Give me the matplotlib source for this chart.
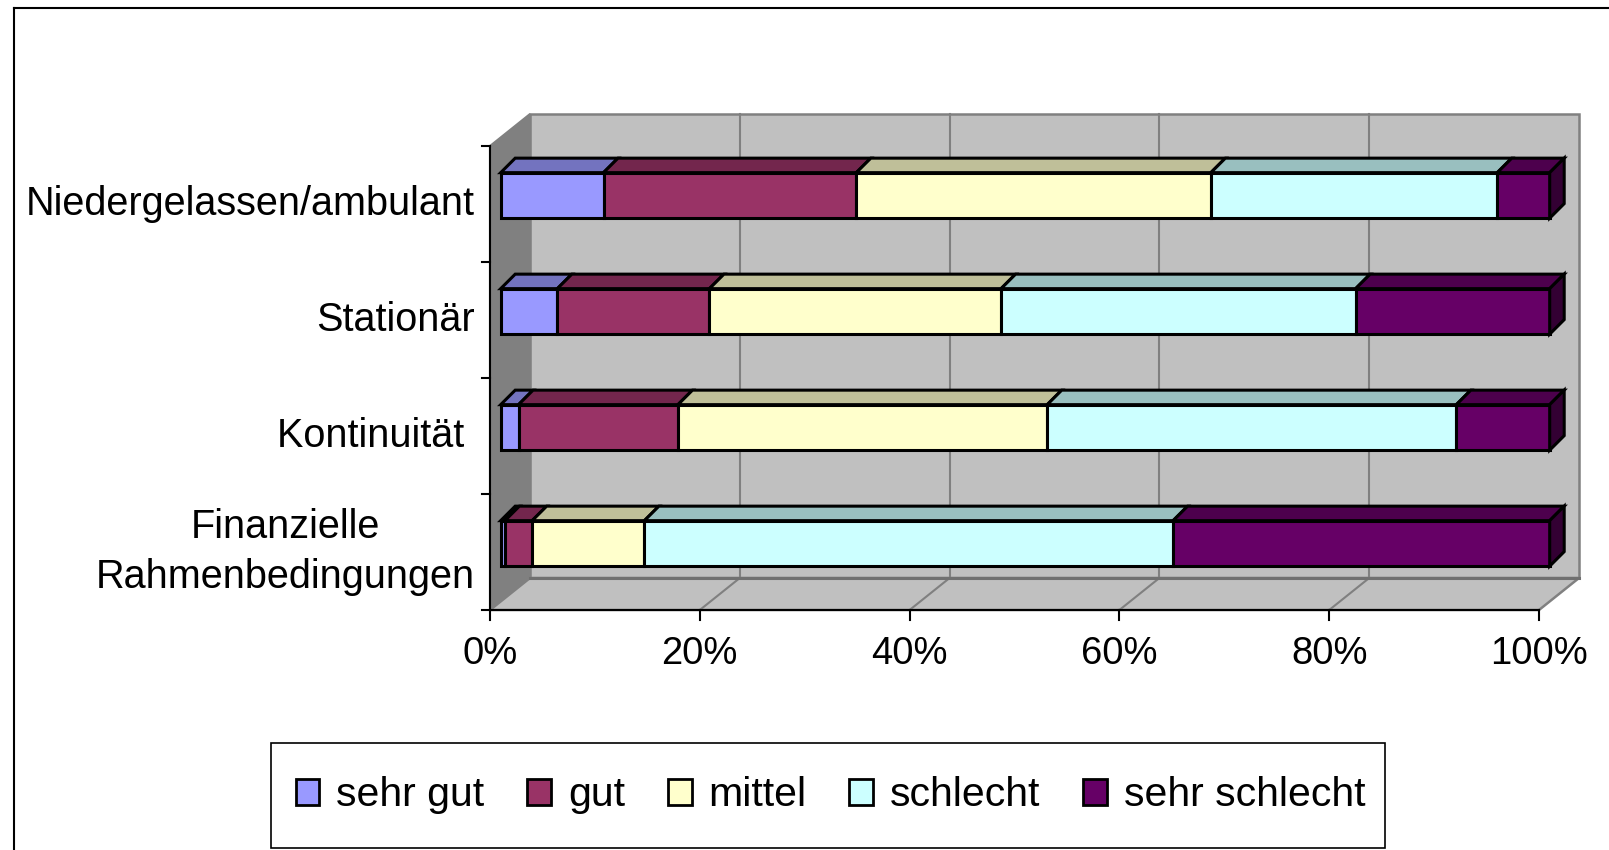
import matplotlib
matplotlib.use("Agg")
import matplotlib.pyplot as plt
from matplotlib.patches import Polygon, Patch, Rectangle
from matplotlib.lines import Line2D
import matplotlib.transforms as mtransforms
import matplotlib.colors as mcolors

plt.rcParams['font.family'] = ['Liberation Sans', 'DejaVu Sans']

# ---------------- data ----------------
categories = ["Finanzielle\nRahmenbedingungen", "Kontinuität ", "Stationär", "Niedergelassen/ambulant"]
series = ["sehr gut", "gut", "mittel", "schlecht", "sehr schlecht"]
sehr_gut = [0.4, 1.7, 5.4, 9.8]
gut = [2.6, 15.2, 14.5, 24.1]
mittel = [10.7, 35.2, 27.8, 33.8]
schlecht = [50.4, 39.0, 33.8, 27.3]
sehr_schlecht = [35.9, 8.9, 18.5, 5.0]
colors = ["#9999FF", "#993366", "#FFFFCC", "#CCFFFF", "#660066"]
xticks = [0, 20, 40, 60, 80, 100]
xticklabels = ["0%", "20%", "40%", "60%", "80%", "100%"]

values = [sehr_gut, gut, mittel, schlecht, sehr_schlecht]

# ---------------- layout (pixels) ----------------
W, H, DPI = 1609, 850, 100
PX_X = 10.49      # pixels per percent
PX_Y = 116.0      # pixels per category slot
X0, Y0 = 490, 240 # origin of the front plane (from left, from bottom)

fig = plt.figure(figsize=(W / DPI, H / DPI), dpi=DPI)
ax = fig.add_axes([0, 0, 1, 1])
ax.set_xlim(-X0 / PX_X, (W - X0) / PX_X)
ax.set_ylim(-Y0 / PX_Y, (H - Y0) / PX_Y)
ax.axis('off')

def dxp(p):
    return p / PX_X

def dyp(p):
    return p / PX_Y

def shade(c, f):
    r, g, b = mcolors.to_rgb(c)
    return (r * f, g * f, b * f)

ncat = len(categories)
wdx, wdy = dxp(40), dyp(32)      # wall depth
bdx, bdy = dxp(14.5), dyp(14.5)  # bar depth
bh = dyp(45.5)                   # bar height
wall_light = "#C0C0C0"
wall_dark = "#808080"

# back wall
ax.add_patch(Polygon([(wdx, wdy), (100 + wdx, wdy), (100 + wdx, ncat + wdy), (wdx, ncat + wdy)],
                     closed=True, fc=wall_light, ec=wall_dark, lw=1.8, zorder=1))
# left wall
ax.add_patch(Polygon([(0, 0), (0, ncat), (wdx, ncat + wdy), (wdx, wdy)],
                     closed=True, fc=wall_dark, ec=wall_dark, lw=1.5, zorder=1))
# floor
ax.add_patch(Polygon([(0, 0), (100, 0), (100 + wdx, wdy), (wdx, wdy)],
                     closed=True, fc=wall_light, ec=wall_dark, lw=1.8, zorder=1))
# gridlines
for t in xticks[1:-1]:
    ax.plot([t + wdx, t + wdx], [wdy, ncat + wdy], color=wall_dark, lw=1.5, zorder=2)
    ax.plot([t, t + wdx], [0, wdy], color=wall_dark, lw=1.5, zorder=2)
ax.plot([wdx, 100 + wdx], [wdy, wdy], color="#707070", lw=2.2, zorder=2)

# axes lines and ticks
ax.plot([0, 0], [0, ncat], color="black", lw=1.5, zorder=3)
ax.plot([0, 100], [0, 0], color="black", lw=1.5, zorder=3)
for j in range(ncat + 1):
    ax.plot([-dxp(8), 0], [j, j], color="black", lw=1.5, zorder=3)
for t, lab in zip(xticks, xticklabels):
    ax.plot([t, t], [0, -dyp(10)], color="black", lw=1.5, zorder=3)
    ax.text(t, -dyp(44), lab, ha="center", va="center", fontsize=27.5)

# category labels
for i, cat in enumerate(categories):
    ax.text(-dxp(15), i + 0.5, cat, ha="right", va="center", multialignment="center",
            fontsize=28.5, linespacing=1.42)

# bars
tr = mtransforms.offset_copy(ax.transData, fig=fig, x=10.7, y=8.6, units="dots")
for i in range(ncat):
    left = 0.0
    y = i + 0.5
    yb, yt = y - bh / 2, y + bh / 2
    for k in range(len(series)):
        v = values[k][i]
        c = colors[k]
        ax.barh([y], [v], left=[left], height=bh, color=c, edgecolor="black",
                lw=2.2, transform=tr, zorder=5)
        ax.add_patch(Polygon([(left, yt), (left + v, yt), (left + v + bdx, yt + bdy), (left + bdx, yt + bdy)],
                             closed=True, fc=shade(c, 0.75), ec="black", lw=2.2,
                             transform=tr, zorder=5))
        left += v
    last = colors[-1]
    ax.add_patch(Polygon([(left, yb), (left, yt), (left + bdx, yt + bdy), (left + bdx, yb + bdy)],
                         closed=True, fc=shade(last, 0.5), ec="black", lw=2.2,
                         transform=tr, zorder=5))

ax.set_xlim(-X0 / PX_X, (W - X0) / PX_X)
ax.set_ylim(-Y0 / PX_Y, (H - Y0) / PX_Y)

# legend box
fig.add_artist(Rectangle((271 / W, 2.5 / H), 1114 / W, 104.5 / H, transform=fig.transFigure,
                         fill=False, edgecolor="black", lw=1.2))
# legend entries spread over the box
handles = [Patch(facecolor=c, edgecolor="black", lw=2) for c in colors]
leg = fig.legend(handles, series, loc="center", mode="expand",
                 bbox_to_anchor=(295.5 / W, 54.5 / H - 0.02, 1070 / W, 0.04), ncol=5,
                 fontsize=29.5, frameon=False,
                 handlelength=0.58, handleheight=0.63, handletextpad=0.41,
                 columnspacing=0.5, borderpad=0, borderaxespad=0)

# chart-area border (cut by the picture on right and bottom)
fig.add_artist(Line2D([14 / W, 1], [1 - 8 / H, 1 - 8 / H], transform=fig.transFigure, color="black", lw=1.5))
fig.add_artist(Line2D([14 / W, 14 / W], [0, 1 - 8 / H], transform=fig.transFigure, color="black", lw=1.5))

fig.savefig("out.png", dpi=DPI)
